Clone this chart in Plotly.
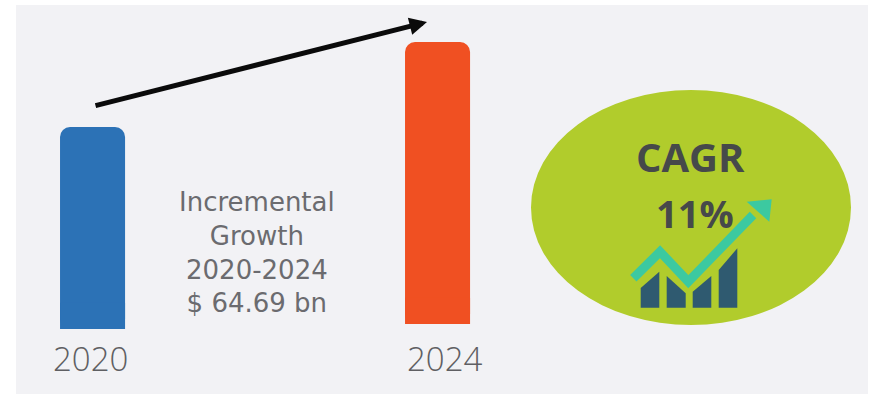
import plotly.graph_objects as go

# Market sizes in USD bn; the two columns differ by the stated increment
years = [2020, 2024]
values = [153.7, 214.6]
bases = [0.0, 3.8]
foot = [20.0, 20.0]
bar_colors = ["#2c72b6", "#f05022"]
increment_lines = ["Incremental", "Growth", "2020-2024", "$ 64.69 bn"]
cagr_title = "CAGR"
cagr_value = "11%"

FONT = "Open Sans"
BLOCK_FONT = "DejaVu Sans"
GREY = "#5f5f63"

fig = go.Figure()
fig.add_trace(go.Bar(
    x=years, y=values, base=bases, width=0.754,
    marker=dict(color=bar_colors, cornerradius=10, line=dict(width=0)),
    hoverinfo="skip", showlegend=False,
))
# Square-cornered foot so only the tops of the columns are rounded
fig.add_trace(go.Bar(
    x=years, y=foot, base=bases, width=0.754,
    marker=dict(color=bar_colors, line=dict(width=0)),
    hoverinfo="skip", showlegend=False,
))
# Invisible trace that activates the pixel-like overlay axes used for decoration
fig.add_trace(go.Scatter(x=[0], y=[0], xaxis="x2", yaxis="y2", mode="markers",
                         marker=dict(opacity=0), hoverinfo="skip", showlegend=False))


def deco(shape_type, **kw):
    fig.add_shape(type=shape_type, xref="x2", yref="y2", **kw)


# Background panel and CAGR ellipse
deco("rect", x0=16, y0=5, x1=868, y1=394, fillcolor="#f2f2f5", line_width=0, layer="below")
deco("circle", x0=531, y0=90, x1=851, y1=325, fillcolor="#b1cc2c", line_width=0, layer="below")

# Small column icon inside the ellipse
for path in [
    "M640.7,307.7 L640.7,288 L659.3,271.7 L659.3,307.7 Z",
    "M666.7,307.7 L666.7,276 L685.7,293.3 L685.7,307.7 Z",
    "M692.7,307.7 L692.7,291.7 L711.3,276 L711.3,307.7 Z",
    "M718.7,307.7 L718.7,270 L737.3,248.3 L737.3,307.7 Z",
]:
    deco("path", path=path, fillcolor="#2f5a70", line_width=0, layer="above")

# Rising teal trend line with its arrowhead
deco("path", path="M633.3,278.3 L660,251.7 L688.3,281.7 L753,215",
     line=dict(color="#3cc9a0", width=9), layer="above")
deco("path", path="M746.7,201.7 L771.7,199.3 L769.3,221.7 Z",
     fillcolor="#3cc9a0", line_width=0, layer="above")


def label(x, y, text, size, family=FONT, weight=300, color=GREY):
    fig.add_annotation(
        x=x, y=y, xref="x2", yref="y2", text=text,
        showarrow=False, xanchor="center", yanchor="middle",
        font=dict(family=family, size=size, color=color, weight=weight),
    )


label(90, 358, str(years[0]), 33)
label(445, 358, str(years[1]), 33)
# Four-line increment note kept as one wrapped text block
label(257, 252, "<br>".join(increment_lines), 26, family=BLOCK_FONT, weight=400, color="#6b6b6f")
label(690, 156, cagr_title, 40, weight=700, color="#46494a")
label(695, 213, cagr_value, 38, weight=700, color="#46494a")

# Growth arrow running from above the first column to above the second
fig.add_annotation(
    x=427, y=22, ax=94, ay=106, xref="x2", yref="y2", axref="x2", ayref="y2",
    text="", showarrow=True, arrowhead=2, arrowsize=0.7, arrowwidth=5, arrowcolor="#0b0b0b",
)

fig.update_layout(
    width=870, height=394, margin=dict(l=0, r=0, t=0, b=0), barmode="overlay",
    paper_bgcolor="white", plot_bgcolor="rgba(0,0,0,0)", showlegend=False,
    xaxis=dict(range=[2018.927, 2029.014], visible=False, fixedrange=True),
    yaxis=dict(range=[-49.5, 250.4], visible=False, fixedrange=True),
    xaxis2=dict(range=[0, 870], overlaying="x", visible=False, fixedrange=True),
    yaxis2=dict(range=[394, 0], overlaying="y", visible=False, fixedrange=True),
)

fig.write_html("out.html", config={"displayModeBar": False})
